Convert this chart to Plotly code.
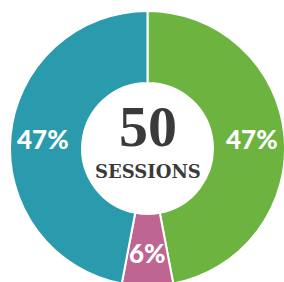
import math
import plotly.graph_objects as go

labels = ["Group A", "Group B", "Group C"]
values = [47, 6, 47]
colors = ["#6cb33f", "#bf6592", "#2a9bac"]
total_sessions = "50"
center_label = "SESSIONS"

W, H = 290, 290
CX, CY, R_OUT, HOLE = 147.5, 148.5, 137.5, 0.476

fig = go.Figure(go.Pie(
    labels=labels,
    values=values,
    hole=HOLE,
    sort=False,
    direction="clockwise",
    rotation=0,
    marker=dict(colors=colors, line=dict(color="white", width=2)),
    textinfo="none",
    hoverinfo="skip",
    domain=dict(x=[(CX - R_OUT) / W, (CX + R_OUT) / W],
                y=[1 - (CY + R_OUT) / H, 1 - (CY - R_OUT) / H]),
    showlegend=False,
))

# percentage labels at mid-ring of each slice (angles derived from values)
total = sum(values)
r_mid = R_OUT * (1 + HOLE) / 2 + 3
cum = 0
for v in values:
    mid = (cum + v / 2) / total * 2 * math.pi
    cum += v
    px = CX + r_mid * math.sin(mid)
    py = CY - r_mid * math.cos(mid)
    fig.add_annotation(
        text=f"{round(v / total * 100)}%", x=px / W, y=1 - py / H,
        xref="paper", yref="paper", showarrow=False,
        xanchor="center", yanchor="middle",
        font=dict(family="Lato", size=26, color="white", weight=900),
    )

fig.add_annotation(
    text=total_sessions, x=CX / W, y=1 - 126 / H, xref="paper", yref="paper",
    showarrow=False, xanchor="center", yanchor="middle",
    font=dict(family="Liberation Serif", size=58, color="#3a3a3a", weight="bold"),
)
fig.add_annotation(
    text=center_label, x=CX / W, y=1 - 171 / H, xref="paper", yref="paper",
    showarrow=False, xanchor="center", yanchor="middle",
    font=dict(family="DejaVu Serif", size=18, color="#3a3a3a", weight="bold"),
)

fig.update_layout(
    width=W, height=H,
    margin=dict(l=0, r=0, t=0, b=0),
    paper_bgcolor="white",
    plot_bgcolor="white",
)

fig.write_html(
    "out.html",
    config={"displayModeBar": False},
    post_script="document.body.style.margin='0';document.body.style.overflow='hidden';",
)
